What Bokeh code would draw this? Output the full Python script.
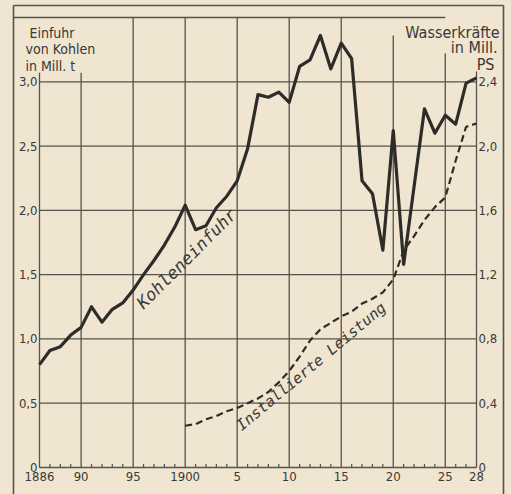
import math
from bokeh.plotting import figure
from bokeh.models import Range1d, Label
from bokeh.core.properties import value
from bokeh.embed import file_html
from bokeh.resources import INLINE

# ---------------- data ----------------
coal_years = [1886, 1887, 1888, 1889, 1890, 1891, 1892, 1893, 1894, 1895,
              1896, 1897, 1898, 1899, 1900, 1901, 1902, 1903, 1904, 1905,
              1906, 1907, 1908, 1909, 1910, 1911, 1912, 1913, 1914, 1915,
              1916, 1917, 1918, 1919, 1920, 1921, 1923, 1924, 1925, 1926,
              1927, 1928]
coal_mill_t = [0.80, 0.91, 0.94, 1.03, 1.09, 1.25, 1.13, 1.23, 1.28, 1.38,
               1.50, 1.61, 1.73, 1.87, 2.04, 1.85, 1.88, 2.02, 2.11, 2.23,
               2.48, 2.90, 2.88, 2.92, 2.84, 3.12, 3.17, 3.36, 3.10, 3.30,
               3.18, 2.23, 2.13, 1.69, 2.62, 1.58, 2.79, 2.60, 2.74, 2.67,
               2.99, 3.03]

power_years = [1900, 1901, 1902, 1903, 1904, 1905, 1906, 1907, 1908, 1909,
               1910, 1911, 1912, 1913, 1914, 1915, 1916, 1917, 1918, 1919,
               1920, 1921, 1922, 1923, 1924, 1925, 1926, 1927, 1928]
power_mill_ps = [0.26, 0.27, 0.30, 0.32, 0.35, 0.37, 0.40, 0.43, 0.47, 0.53,
                 0.60, 0.69, 0.79, 0.86, 0.90, 0.94, 0.97, 1.02, 1.05, 1.09,
                 1.17, 1.35, 1.44, 1.54, 1.62, 1.68, 1.91, 2.12, 2.14]

left_ticks = [0, 0.5, 1.0, 1.5, 2.0, 2.5, 3.0]
left_labels = ["0", "0,5", "1,0", "1,5", "2,0", "2,5", "3,0"]
right_ticks = [0, 0.4, 0.8, 1.2, 1.6, 2.0, 2.4]
right_labels = ["0", "0,4", "0,8", "1,2", "1,6", "2,0", "2,4"]
x_ticks = [1886, 1890, 1895, 1900, 1905, 1910, 1915, 1920, 1925, 1928]
x_labels = ["1886", "90", "95", "1900", "5", "10", "15", "20", "25", "28"]

# ---------------- layout ----------------
W, H = 511, 494          # figure size; the page template has no body margin
MARGIN = 0
# page pixel positions of the data frame
PX_X0, PX_X1 = 39, 476   # 1886 .. 1928
PX_Y0, PX_Y35 = 467, 17  # value 0 .. 3.5
sx = (PX_X1 - PX_X0) / (1928 - 1886)
sy = (PX_Y0 - PX_Y35) / 3.5
x_start = 1886 - (PX_X0 - MARGIN) / sx
x_end = x_start + W / sx
y_start = -(MARGIN + H - PX_Y0) / sy
y_end = y_start + H / sy
PS_RATIO = 0.8           # right scale = 0.8 * left scale

def X(px):
    return x_start + (px - MARGIN) / sx

def Y(py):
    return y_start + (H - (py - MARGIN)) / sy

BG = "#efe5d1"
INK = "#2d2c29"
GRID = "#55534c"
TXT = "#3a3935"
FONT = "DejaVu Sans Condensed"

p = figure(width=W, height=H, output_backend="svg", toolbar_location=None,
           x_range=Range1d(x_start, x_end), y_range=Range1d(y_start, y_end),
           min_border=0)
p.extra_y_ranges = {"ps": Range1d(y_start * PS_RATIO, y_end * PS_RATIO)}
p.axis.visible = False
p.grid.visible = False
p.outline_line_color = None
p.background_fill_color = BG
p.border_fill_color = BG

# outer frame
p.segment(x0=[X(13), X(503), X(13)], y0=[Y(494), Y(494), Y(5)],
          x1=[X(13), X(503), X(503)], y1=[Y(5), Y(5), Y(5)],
          line_color=GRID, line_width=1.6)
# inner top rule
p.segment(x0=[X(13)], y0=[3.5], x1=[1925], y1=[3.5], line_color=GRID, line_width=1.3)

# vertical grid lines (with their individual top ends)
v_tops = [3.07, 3.07, 3.5, 3.5, 3.5, 3.5, 3.5, 3.36, 3.22, 3.08]
p.segment(x0=x_ticks, y0=[0] * len(x_ticks), x1=x_ticks, y1=v_tops,
          line_color=GRID, line_width=1.3)
# horizontal grid lines
p.segment(x0=[1886] * len(left_ticks), y0=left_ticks,
          x1=[1928] * len(left_ticks), y1=left_ticks,
          line_color=GRID, line_width=1.3)
# minor year ticks along the base line
minor = [yr for yr in range(1887, 1928) if yr not in x_ticks]
tick_len = 3.5 / sy
p.segment(x0=minor, y0=[0] * len(minor), x1=minor, y1=[tick_len] * len(minor),
          line_color=GRID, line_width=1.2)

# data lines
p.line(coal_years, coal_mill_t, line_color=INK, line_width=3.2, line_join="round")
p.line(power_years, power_mill_ps, y_range_name="ps", line_color=INK,
       line_width=2.2, line_dash="7 4")

# tick labels
p.text(x=[X(37)] * len(left_ticks), y=left_ticks, text=left_labels,
       text_align="right", text_baseline="alphabetic", text_font=value(FONT),
       text_font_size="13px", text_color=TXT)
p.text(x=[X(478)] * len(right_ticks), y=right_ticks, text=right_labels,
       y_range_name="ps", text_align="left", text_baseline="middle",
       text_font=value(FONT), text_font_size="13px", text_color=TXT)
p.text(x=x_ticks, y=[Y(471)] * len(x_ticks), text=x_labels,
       text_align="center", text_baseline="top", text_font=value(FONT),
       text_font_size="13px", text_color=TXT)

# axis titles
for txt, px, py in [("Einfuhr", 29, 32), ("von Kohlen", 25, 48), ("in Mill. t", 25, 65)]:
    p.add_layout(Label(x=X(px), y=Y(py), text=txt, text_align="left",
                       text_baseline="alphabetic", text_font=FONT,
                       text_font_size="14px", text_color=TXT))
for txt, px, py in [("Wasserkräfte", 499, 32), ("in Mill.", 497, 47), ("PS", 494, 64)]:
    p.add_layout(Label(x=X(px), y=Y(py), text=txt, text_align="right",
                       text_baseline="alphabetic", text_font=FONT,
                       text_font_size="16px", text_color=TXT))

# series labels written along the curves
p.add_layout(Label(x=X(139), y=Y(305), text="Kohleneinfuhr", angle=math.radians(45),
                   text_align="left", text_baseline="alphabetic",
                   text_font="DejaVu Sans Mono", text_font_style="italic",
                   text_font_size="17px", text_color=TXT))
p.add_layout(Label(x=X(238), y=Y(427), text="Installierte Leistung",
                   angle=math.radians(40), text_align="left",
                   text_baseline="alphabetic", text_font="DejaVu Sans Mono",
                   text_font_style="italic", text_font_size="15px", text_color=TXT))

html = file_html(p, INLINE)
html = html.replace("</head>", "<style>html,body{background:%s;}</style></head>" % BG, 1)
open("out.html", "w").write(html)
